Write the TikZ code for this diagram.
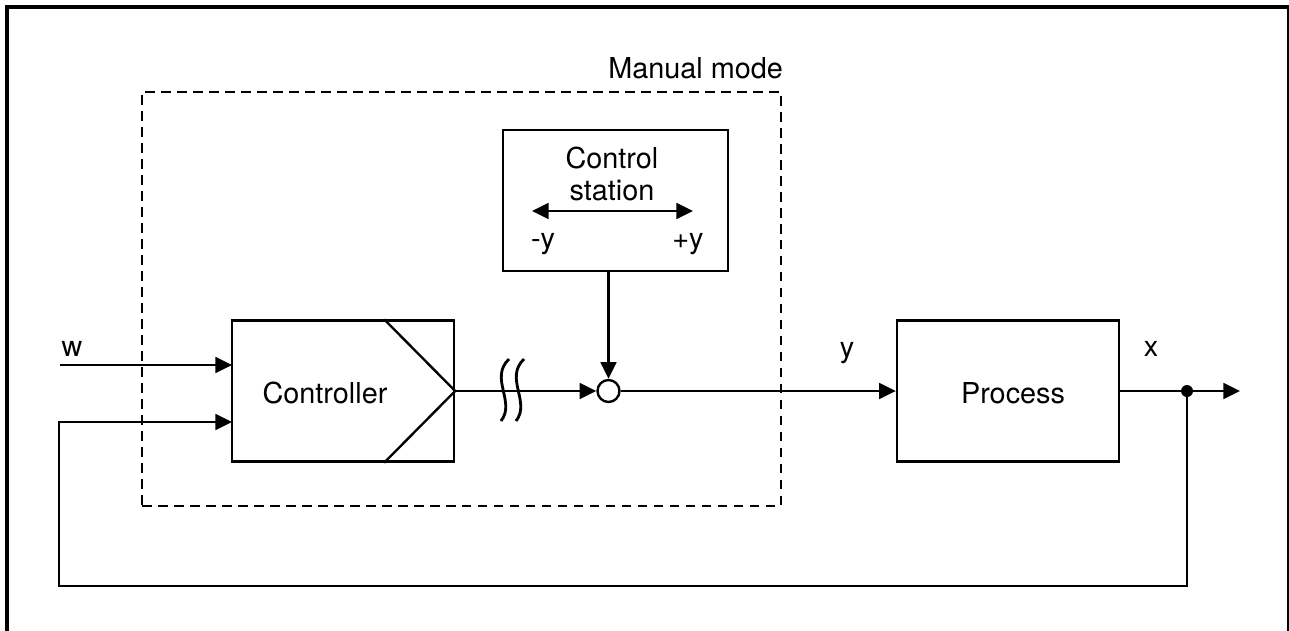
\documentclass[tikz,border=0pt]{standalone}
\usepackage{fontspec}
\setmainfont{TeX Gyre Heros}
\usetikzlibrary{arrows.meta,calc}
\begin{document}
\begin{tikzpicture}[x=0.02cm,y=-0.02cm,
  line width=1.35pt,
  box/.style={draw, line width=1.35pt, minimum width=4.44cm, minimum height=2.82cm, inner sep=0pt},
  lbl/.style={font=\fontsize{16.4}{18}\selectfont, inner sep=0pt, anchor=base},
  arr/.style={-{Triangle[length=9.5pt,width=9pt]}},
  framethick/.style={line width=2.2pt},
  framethin/.style={line width=1pt},
  manual/.style={draw, dash pattern=on 5.5pt off 3.6pt, line width=1.35pt, minimum width=12.78cm, minimum height=8.28cm, inner sep=0pt}
]
\useasboundingbox (0,0) rectangle (1289,630);
% outer frame
\draw[framethick] (5,7) -- (1289,7);
\draw[framethick] (7,5) -- (7,632);
\draw[framethin] (1288,7) -- (1288,632);

% manual mode frame
\node[manual] (manual) at (461.5,299) {};
\node[lbl, anchor=base east] (manuallbl) at (784,78) {Manual mode};

% boxes
\node[box] (ctrl) at (343,391) {};
\node[lbl] (ctrllbl) at (325,403) {Controller};
\node[box] (proc) at (1008,391) {};
\node[lbl] (proclbl) at (1013,403) {Process};
\node[box, minimum width=4.5cm] (cs) at (615.5,200.5) {};
\node[lbl] (cs1) at (612,168) {Control};
\node[lbl] (cs2) at (612,200) {station};
\node[lbl] (ym) at (543,248) {-y};
\node[lbl] (yp) at (688,248) {+y};
\coordinate (csl) at (532,211);
\coordinate (csr) at (693,211);
\draw[{Triangle[length=9.5pt,width=9pt]}-{Triangle[length=9.5pt,width=9pt]}] (csl) -- (csr);

% controller output triangle
\draw (ctrl.north east) ++(-71,0) coordinate (t1) -- (ctrl.east) -- ($(ctrl.south east)+(-71,0)$) coordinate (t2);

% summing junction
\node[circle, draw, line width=1.35pt, minimum size=0.44cm, inner sep=0pt] (sum) at (608.5,391) {};
\node[circle, fill, inner sep=0pt, minimum size=0.24cm] (dot) at (1187,391) {};

% connectors
\draw[arr] (ctrl.east) -- (sum.west);
\draw[arr] (sum.north |- cs.south) -- (sum.north);
\draw[arr] (sum.east) -- (proc.west);
\coordinate (out) at (1240,391);
\draw[arr] (proc.east) -- (out);

% break symbol
\draw[line width=1.6pt] (509,359) .. controls (489,378) and (516,402) .. (501,421);
\draw[line width=1.6pt] (524,359) .. controls (504,378) and (531,402) .. (516,421);

% inputs
\coordinate (win) at (60,365);
\coordinate (cin1) at (232,365);
\coordinate (cin2) at (232,422);
\coordinate (fb) at (59,586);
\draw[arr] (win) -- (cin1);
\draw[arr] (dot.center) |- (fb) |- (cin2);

% labels
\node[lbl] (wl) at (72,356) {w};
\node[lbl] (yl) at (847,357) {y};
\node[lbl] (xl) at (1151,356) {x};
\end{tikzpicture}
\end{document}
